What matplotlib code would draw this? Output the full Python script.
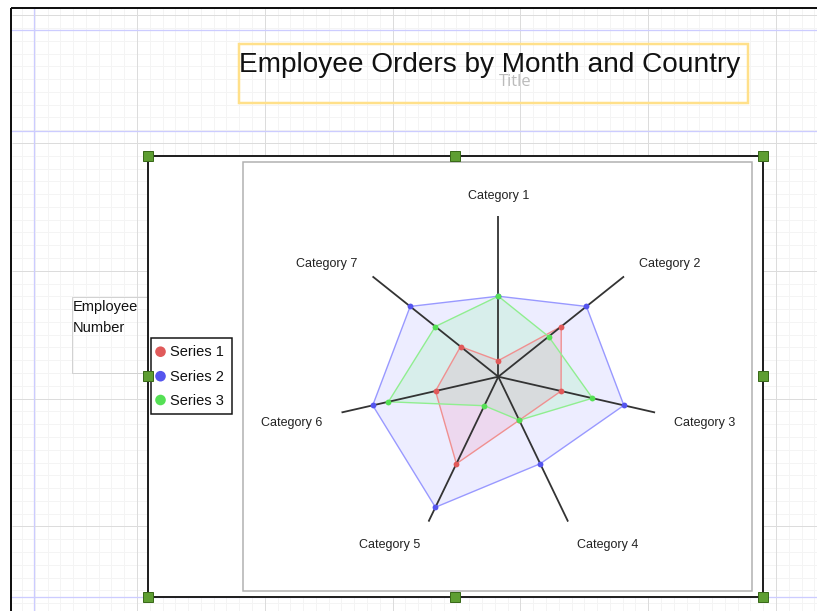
import numpy as np
import matplotlib
matplotlib.use("Agg")
import matplotlib.pyplot as plt
from matplotlib.patches import Rectangle, Circle

# ---------------- data ----------------
categories = ["Category 1", "Category 2", "Category 3", "Category 4",
              "Category 5", "Category 6", "Category 7"]
series_names = ["Series 1", "Series 2", "Series 3"]
series1 = [0.1, 0.5, 0.4, 0.3, 0.6, 0.4, 0.3]
series2 = [0.5, 0.7, 0.8, 0.6, 0.9, 0.8, 0.7]
series3 = [0.5, 0.4, 0.6, 0.3, 0.2, 0.7, 0.5]
title_text = "Employee Orders by Month and Country"
axis_title = "Employee\nNumber"

series_values = [series1, series2, series3]
marker_colors = ["#E05A5A", "#5555EE", "#55E055"]
line_colors = ["#F09090", "#9999FF", "#90EE90"]
fill_colors = ["#FF2060", "#3030FF", "#20FF40"]
fill_alphas = [0.10, 0.085, 0.10]
draw_order = [1, 0, 2]

W, H = 817, 611
DPI = 100
fig = plt.figure(figsize=(W / DPI, H / DPI), dpi=DPI)
fig.patch.set_facecolor("white")

PX = 72.0 / DPI  # points per pixel

# ---------------- background design surface ----------------
bg = fig.add_axes([0, 0, 1, 1])
bg.set_xlim(0, W)
bg.set_ylim(H, 0)
bg.set_axis_off()

step = 12.78
x0, y0 = 137.0, 143.0
for k in range(-10, 60):
    x = x0 + k * step
    if 12 < x < W:
        major = (k % 10 == 0)
        bg.plot([x, x], [8, H], color="#DCDCDC" if major else "#F4F4F4",
                lw=PX * 1.0, zorder=1 if major else 0.5, solid_capstyle="butt")
    y = y0 + k * step
    if 8 < y < H:
        major = (k % 10 == 0)
        bg.plot([12, W], [y, y], color="#DCDCDC" if major else "#F4F4F4",
                lw=PX * 1.0, zorder=1 if major else 0.5, solid_capstyle="butt")

# blue guide lines
for y in (30.0, 130.7, 597.0):
    bg.plot([12, W], [y, y], color="#CCCCFF", lw=PX * 1.3, zorder=1.5)
bg.plot([34.5, 34.5], [8, H], color="#CCCCFF", lw=PX * 1.3, zorder=1.5)

# black border top / left
bg.plot([11.5, W], [8, 8], color="#111111", lw=PX * 2, zorder=2,
        solid_capstyle="butt")
bg.plot([11.5, 11.5], [8, H], color="#111111", lw=PX * 2, zorder=2,
        solid_capstyle="butt")

# title box
bg.add_patch(Rectangle((239, 44), 509, 59, fill=False, edgecolor="#FFE08A",
                       lw=PX * 2.5, zorder=3))
bg.text(490, 64.5, title_text, fontsize=20.2, family="Liberation Sans",
        color="#111111", ha="center", va="center", zorder=4)
bg.text(515, 82.5, "Title", fontsize=12, family="Open Sans",
        color="#BBBBBB", ha="center", va="center", zorder=3.5)

# axis title box
bg.add_patch(Rectangle((72.5, 296.5), 89.5, 76.5, fill=False,
                       edgecolor="#D2D2D2", lw=PX * 1, zorder=3))
bg.text(73, 300.5, axis_title, fontsize=10.5, family="Liberation Sans",
        color="#111111", ha="left", va="top", linespacing=1.55, zorder=4)

# chart box
bg.add_patch(Rectangle((148, 156), 615, 441, facecolor="white",
                       edgecolor="#222222", lw=PX * 2, zorder=5))
# plot area box
bg.add_patch(Rectangle((243.5, 161.5), 508.5, 429.5, facecolor="white",
                       edgecolor="#B0B0B0", lw=PX * 1.5, zorder=5.5))

# legend
bg.add_patch(Rectangle((150.7, 337.7), 81, 76.6, facecolor="white",
                       edgecolor="#111111", lw=PX * 1.5, zorder=6))
leg_y = [351.7, 376.2, 400.0]
for name, col, ly in zip(series_names, marker_colors, leg_y):
    bg.add_patch(Circle((160.5, ly), 5.3, facecolor=col, edgecolor="none",
                        zorder=6.5))
    bg.text(170.5, ly + 0.8, name, fontsize=10.5, family="Liberation Sans",
            color="#111111", ha="left", va="center", zorder=6.5)

# selection handles
hx = [148, 455, 763]
hy = [156, 376, 597]
for xx in hx:
    for yy in hy:
        if xx == 455 and yy == 376:
            continue
        bg.add_patch(Rectangle((xx - 5, yy - 5), 10, 10, facecolor="#5E9E32",
                               edgecolor="#3A6A1A", lw=PX * 1, zorder=8))

# ---------------- radar chart ----------------
cx, cy, R = 498.3, 376.7, 161.0
ax = fig.add_axes([(cx - R) / W, (H - cy - R) / H, 2 * R / W, 2 * R / H],
                  projection="polar")
ax.set_theta_zero_location("N")
ax.set_theta_direction(-1)
ax.set_ylim(0, 1)
ax.set_axis_off()
ax.set_zorder(7)
ax.patch.set_alpha(0)

n = len(categories)
theta = np.arange(n) * 2 * np.pi / n
theta_c = np.concatenate([theta, theta[:1]])

for i in draw_order:
    vals = np.array(series_values[i], dtype=float)
    vals_c = np.concatenate([vals, vals[:1]])
    ax.fill(theta_c, vals_c, color=fill_colors[i], alpha=fill_alphas[i],
            lw=0, zorder=2 + i * 0.1)
    ax.plot(theta_c, vals_c, color=line_colors[i], lw=1.0, zorder=3 + i * 0.1)

for th in theta:
    ax.plot([th, th], [0, 1], color="#333333", lw=1.3, zorder=4,
            solid_capstyle="butt")

for i in draw_order:
    ax.plot(theta, series_values[i], ls="none", marker="o", ms=4.2,
            mec="none", color=marker_colors[i], zorder=5 + i * 0.1)

for th, lab in zip(theta, categories):
    s, c = np.sin(th), np.cos(th)
    r = 1.12
    if abs(s) < 0.1:
        ha = "center"
        r = 1.085
    elif s > 0:
        ha = "left"
    else:
        ha = "right"
    if c > 0.9:
        va = "bottom"
    elif c > 0.1:
        va = "center"
    else:
        va = "top"
    ax.text(th, r, lab, fontsize=9, family="Liberation Sans",
            color="#222222", ha=ha, va=va, clip_on=False)

fig.savefig("out.png", dpi=DPI)
